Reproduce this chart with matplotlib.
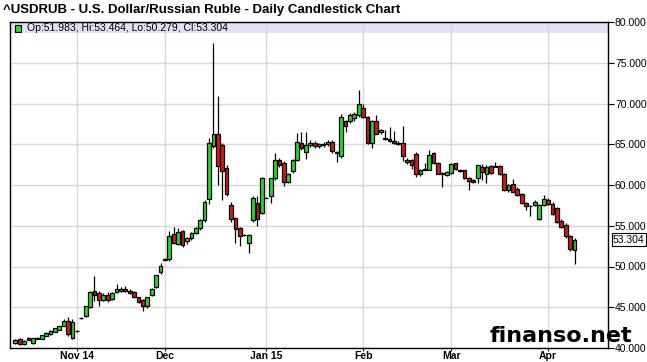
import matplotlib
matplotlib.use("Agg")
import matplotlib.pyplot as plt
from matplotlib.patches import Rectangle
from matplotlib.ticker import FormatStrFormatter
import numpy as np
import pandas as pd

plt.rcParams['font.family'] = ['Liberation Sans', 'DejaVu Sans']

# trading days shown on the chart
dates = pd.bdate_range('2014-10-14', '2015-04-09')

# daily OHLC, Oct 14 2014 .. Apr 9 2015
opens = [
    # Oct
    40.6, 41.1, 40.45, 41.2, 40.6, 41.15, 41.1, 41.5, 41.7, 42.0, 42.2, 42.7, 43.3, 41.2,
    # Nov
    42.05, 43.65, 43.9, 45.0, 47.05, 46.8, 45.95, 46.55, 46.0, 46.9, 47.05, 47.3, 47.05, 46.9,
    46.2, 45.85, 45.1, 46.5, 47.5, 49.3,
    # Dec
    50.85, 50.9, 54.0, 52.8, 54.3, 53.1, 53.5, 54.1, 54.7, 55.65, 58.26, 64.76, 66.3, 64.96,
    62.1, 57.6, 55.94, 54.7, 53.85, 52.9, 55.65, 57.84, 56.6,
    # Jan
    58.4, 58.6, 60.8, 63.1, 62.7, 60.4, 61.7, 63.05, 65.2, 64.05, 64.9, 65.16, 64.8, 64.9,
    65.0, 65.3, 63.9, 63.5, 67.8, 67.8, 68.2, 68.65,
    # Feb
    69.5, 68.3, 65.1, 67.8, 66.5, 65.8, 65.7, 65.4, 65.2, 65.2, 62.77, 63.1, 63.8, 61.3,
    61.9, 61.9, 63.9, 62.7, 61.5, 61.2,
    # Mar
    61.5, 62.65, 61.9, 61.8, 60.9, 60.6, 60.8, 62.15, 61.3, 62.3, 62.35, 62.3, 61.4, 59.4,
    60.1, 59.5, 58.9, 57.8, 57.45, 57.55, 55.8, 57.55,
    # Apr
    58.2, 57.7, 57.2, 55.6, 55.1, 53.7, 51.983,
]
highs = [
    41.1, 41.25, 40.95, 41.3, 41.25, 41.3, 41.65, 41.95, 42.15, 42.45, 42.75, 43.5, 43.75, 43.5,
    42.15, 43.75, 45.2, 47.0, 48.8, 47.0, 46.7, 46.9, 46.9, 47.9, 47.5, 47.6, 47.2, 47.0,
    46.3, 46.0, 46.3, 47.4, 49.0, 50.4,
    51.0, 54.3, 54.9, 54.7, 54.5, 53.6, 54.2, 54.9, 55.8, 58.1, 65.8, 77.4, 70.9, 65.2,
    62.4, 57.9, 56.1, 54.9, 53.95, 54.0, 58.6, 58.6, 61.0,
    58.5, 60.9, 63.9, 63.3, 62.9, 61.5, 63.2, 66.4, 66.5, 66.5, 65.5, 65.4, 65.2, 65.3,
    65.5, 65.5, 64.2, 68.7, 68.0, 68.8, 69.0, 71.6,
    69.96, 68.5, 68.0, 68.6, 66.9, 66.8, 67.1, 66.6, 65.4, 67.3, 63.3, 63.2, 64.0, 62.0,
    62.65, 64.3, 64.0, 62.8, 61.6, 61.7,
    62.7, 62.7, 62.0, 61.9, 61.0, 60.7, 62.5, 62.6, 62.4, 62.5, 62.8, 62.5, 61.5, 60.1,
    60.7, 59.7, 59.0, 57.9, 57.6, 58.1, 57.7, 58.8,
    58.4, 57.9, 57.3, 55.8, 55.3, 53.9, 53.464,
]
lows = [
    40.5, 40.4, 40.4, 40.95, 40.55, 41.1, 41.05, 41.45, 41.65, 41.95, 42.15, 42.65, 41.5, 41.1,
    42.0, 43.6, 43.8, 44.9, 45.8, 45.1, 45.8, 45.7, 45.9, 46.8, 46.9, 46.9, 46.6, 46.1,
    45.5, 44.55, 44.9, 46.4, 47.4, 49.1,
    50.8, 50.7, 52.7, 52.6, 52.4, 52.8, 53.3, 54.0, 54.5, 55.4, 57.7, 64.5, 60.0, 58.2,
    58.6, 55.5, 52.9, 52.5, 53.8, 51.6, 55.4, 55.0, 56.4,
    58.4, 57.8, 60.6, 62.2, 59.9, 60.2, 61.5, 62.9, 64.3, 63.25, 64.7, 64.6, 64.6, 64.7,
    64.8, 63.9, 62.8, 63.3, 66.5, 67.6, 67.9, 68.4,
    68.2, 65.0, 64.5, 66.2, 66.3, 65.5, 65.3, 65.0, 64.9, 63.0, 62.6, 62.0, 61.0, 61.1,
    61.8, 61.8, 62.6, 61.3, 59.8, 61.1,
    61.4, 61.9, 61.6, 60.7, 59.4, 60.3, 60.2, 60.6, 60.3, 61.4, 62.2, 61.2, 59.3, 59.2,
    59.1, 58.7, 57.7, 56.95, 56.2, 57.4, 55.7, 57.4,
    57.5, 56.3, 55.3, 54.7, 53.5, 51.9, 50.279,
]
closes = [
    41.0, 40.5, 40.9, 41.0, 41.2, 41.2, 41.6, 41.9, 42.1, 42.4, 42.7, 43.3, 41.7, 43.2,
    42.1, 43.7, 45.1, 46.9, 46.5, 45.9, 46.55, 45.9, 46.8, 47.3, 47.3, 47.0, 46.7, 46.2,
    45.6, 45.1, 46.2, 47.3, 48.9, 50.1,
    50.9, 53.8, 52.9, 54.2, 52.6, 53.5, 54.1, 54.7, 55.65, 57.96, 65.16, 66.3, 62.3, 61.74,
    58.9, 55.8, 54.6, 53.8, 53.9, 53.9, 58.4, 55.8, 60.9,
    58.45, 60.8, 63.1, 62.4, 60.4, 61.3, 63.05, 65.3, 64.5, 64.9, 65.2, 64.76, 65.0, 65.05,
    65.3, 64.15, 64.1, 68.4, 67.2, 68.65, 68.7, 69.96,
    68.4, 65.16, 67.9, 66.3, 66.8, 65.6, 65.4, 65.1, 65.0, 63.5, 63.1, 62.5, 61.4, 61.9,
    62.0, 63.66, 62.7, 61.4, 61.3, 61.6,
    62.56, 62.0, 61.74, 60.8, 60.5, 60.35, 62.4, 61.6, 62.2, 61.5, 62.25, 61.3, 59.4, 60.0,
    59.2, 58.8, 57.8, 57.4, 57.4, 57.96, 57.55, 58.25,
    57.7, 56.5, 55.5, 54.9, 53.7, 52.1, 53.304,
]

month_labels = ['Nov 14', 'Dec', 'Jan 15', 'Feb', 'Mar', 'Apr']
month_starts = ['2014-11-03', '2014-12-01', '2015-01-01', '2015-02-02', '2015-03-02', '2015-04-01']
title = '^USDRUB - U.S. Dollar/Russian Ruble - Daily Candlestick Chart'

o = np.array(opens)
h = np.array(highs)
l = np.array(lows)
c = np.array(closes)
x = np.arange(len(dates))

fig = plt.figure(figsize=(6.47, 3.62), dpi=100)
W, H = 647, 362
ax = fig.add_axes([9.5 / W, (H - 348) / H, (608 - 9.5) / W, (348 - 22) / H])

up = c >= o
green = '#22dd22'
red = '#d41a1a'
colors = np.where(up, green, red)

ax.vlines(x, l, h, color='black', lw=0.9, zorder=3)
body_bottom = np.minimum(o, c)
body_height = np.maximum(np.abs(c - o), 0.04)
ax.bar(x, body_height, bottom=body_bottom, width=0.85, color=colors,
       edgecolor='black', linewidth=0.9, zorder=4)

# legend band at the top of the plot
ax.axhspan(78.6, 80, color='#e1e1f7', zorder=0.5, lw=0)

ax.set_ylim(40, 80)
ax.set_xlim(-1.3, 134.6)
ax.set_yticks(np.arange(40, 81, 5))
ax.yaxis.set_major_formatter(FormatStrFormatter('%.3f'))
ax.yaxis.tick_right()

tick_pos = [dates.get_loc(pd.Timestamp(d)) for d in month_starts]
ax.set_xticks(tick_pos)
ax.set_xticklabels(month_labels, fontweight='bold', fontsize=7.5)

ax.tick_params(axis='y', labelsize=7.5, length=4, pad=1, direction='out')
ax.tick_params(axis='x', length=2, pad=0, direction='out')
ax.grid(color='#d8d8d8', lw=1, zorder=1)
ax.set_axisbelow(True)
for s in ax.spines.values():
    s.set_color('black')
    s.set_linewidth(1)

# last price marker
ax.text(1.008, c[-1], f'{c[-1]:.3f}', transform=ax.get_yaxis_transform(),
        va='center', ha='left', fontsize=7.5,
        bbox=dict(facecolor='white', edgecolor='black', pad=0.8, lw=0.8))

fig.text(3 / W, 1 - 10 / H, title, fontsize=9.5, fontweight='bold', va='center', ha='left')

fig.add_artist(Rectangle((14.5 / W, 1 - 31.5 / H), 6.5 / W, 6.5 / H,
                         transform=fig.transFigure, facecolor=green,
                         edgecolor='black', lw=0.8, zorder=10))
fig.text(27 / W, 1 - 28 / H,
         f'Op:{o[-1]:.3f}, Hi:{h[-1]:.3f}, Lo:{l[-1]:.3f}, Cl:{c[-1]:.3f}',
         fontsize=7.5, va='center', ha='left', zorder=10)

fig.text(490 / W, 1 - 341.7 / H, 'finanso.net', family='DejaVu Sans',
         fontweight='bold', fontsize=16, va='baseline', ha='left', zorder=10)

fig.savefig('out.png', dpi=100)
